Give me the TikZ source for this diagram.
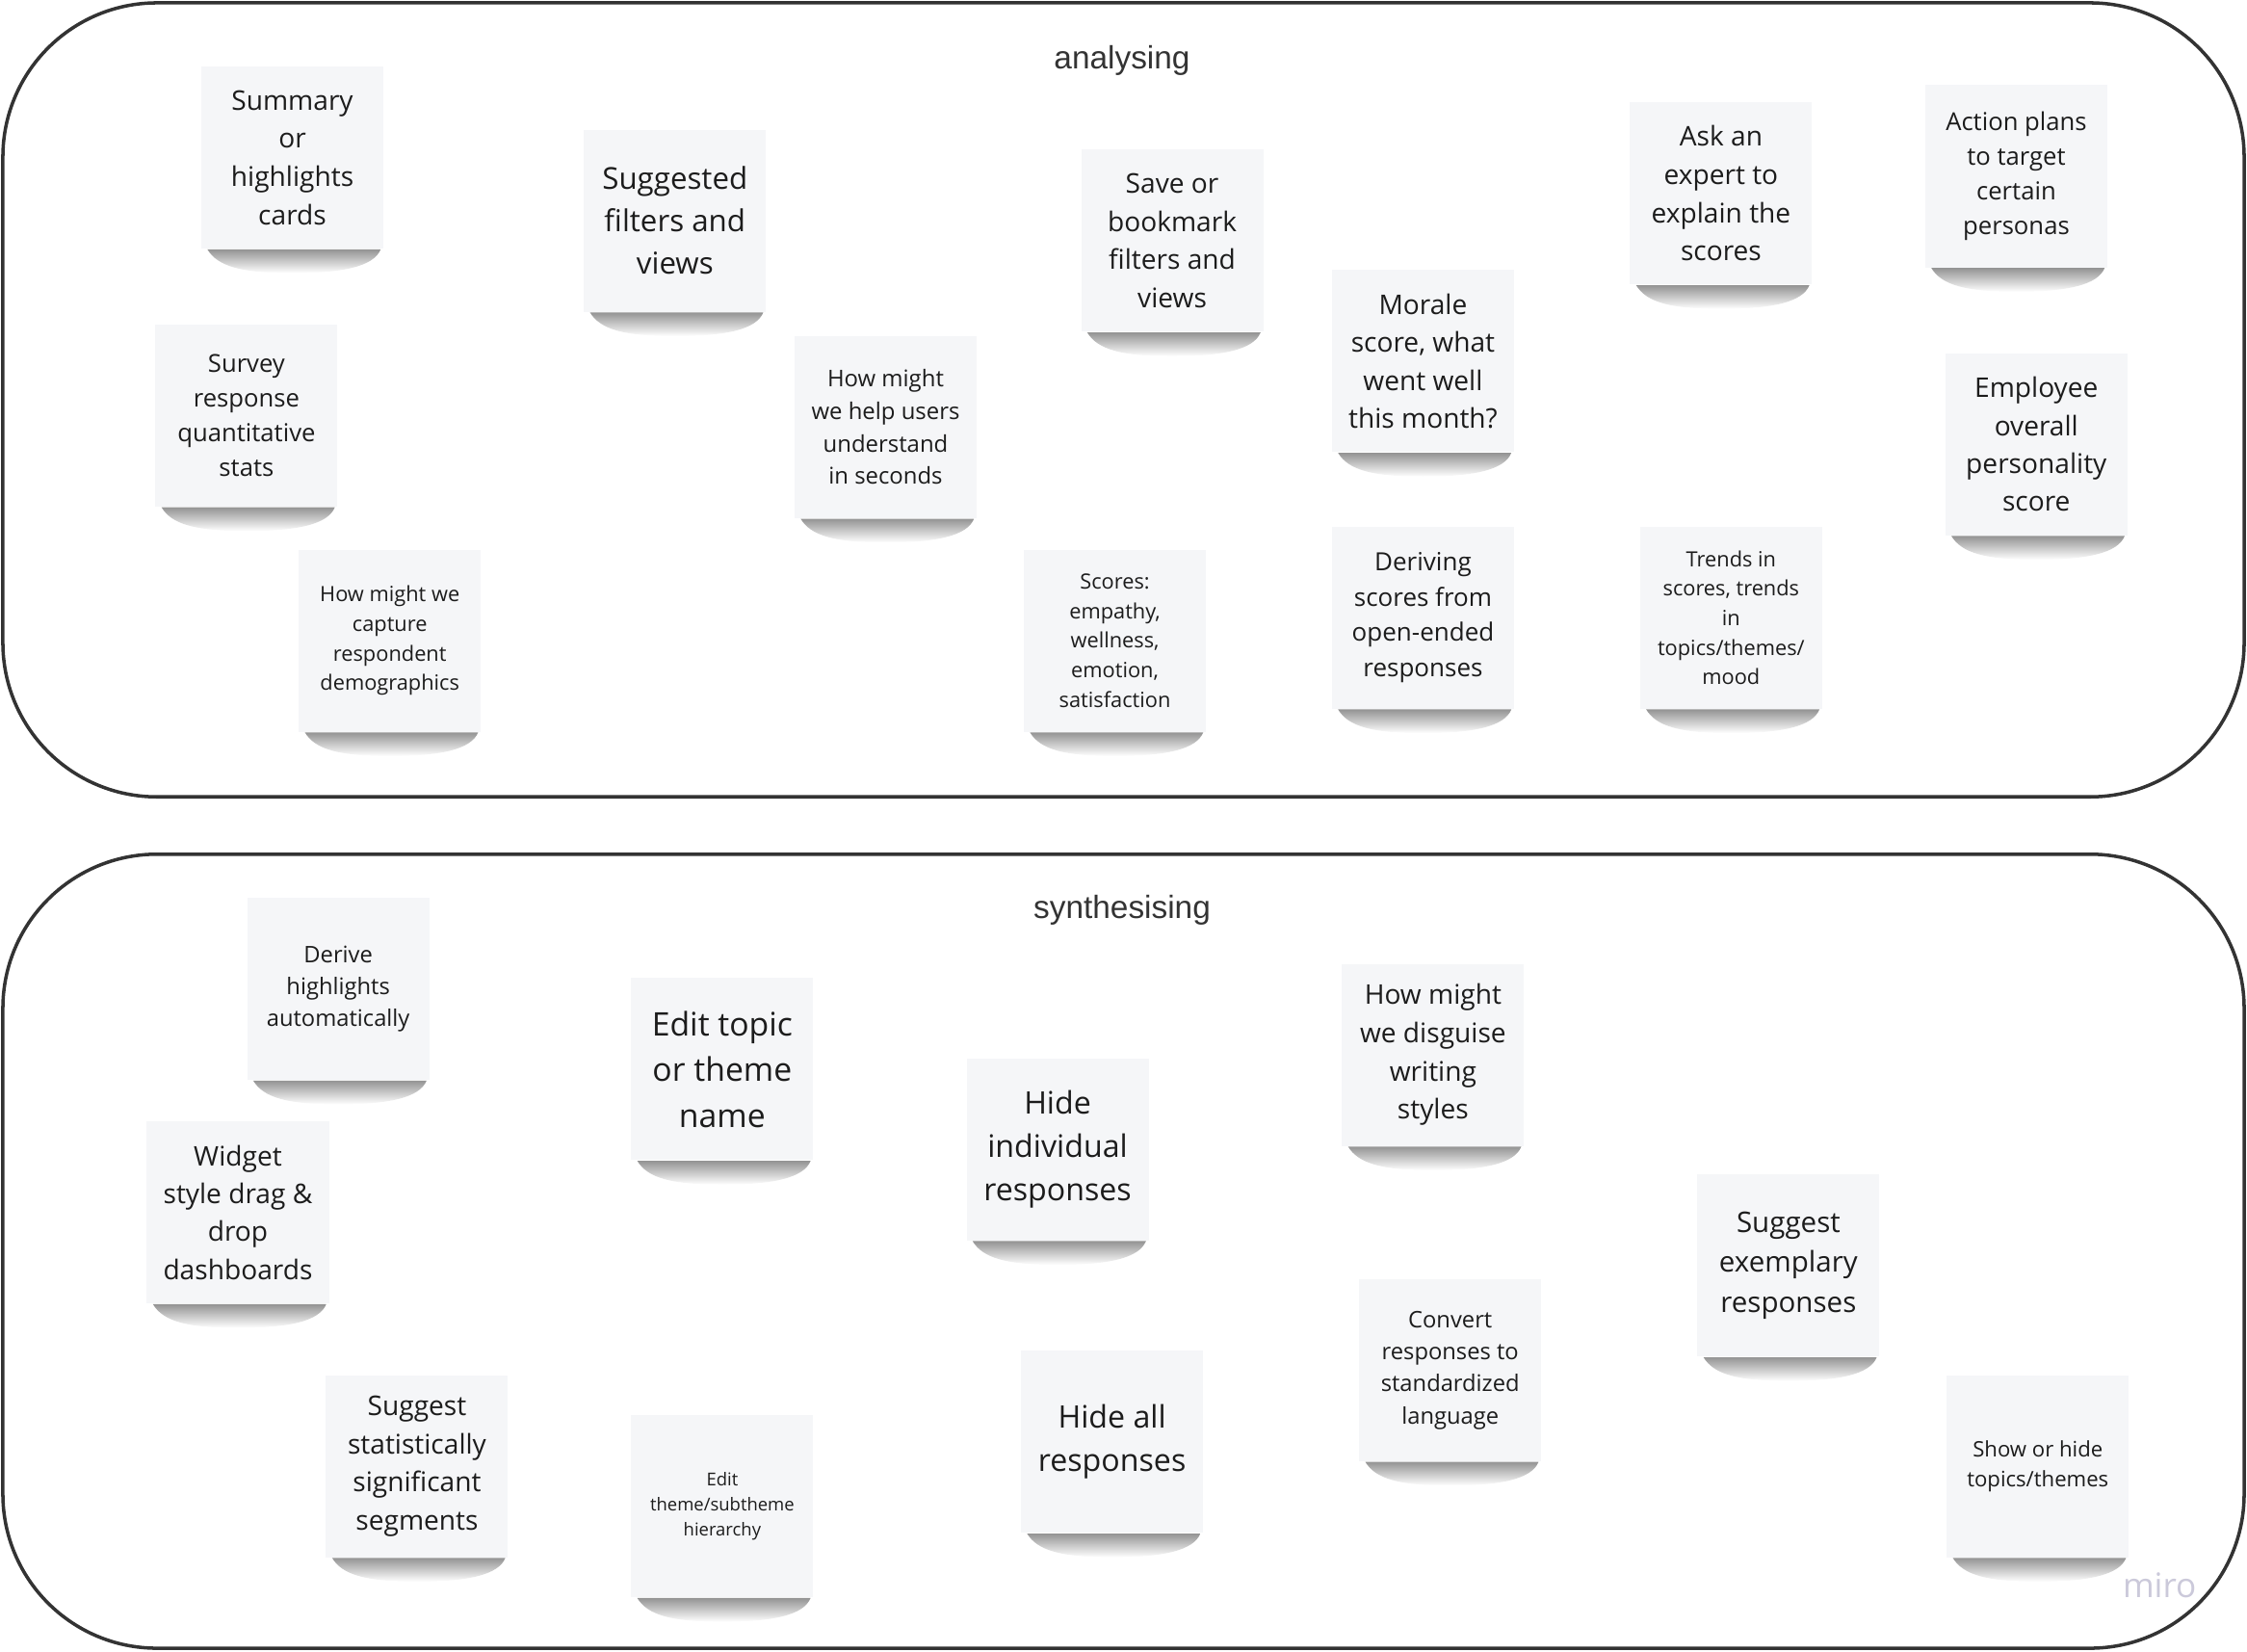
\documentclass[tikz,border=0pt]{standalone}
\usepackage{fontspec}
\setmainfont{Open Sans}
\newfontfamily\titlefont{Liberation Sans}
\definecolor{notegrey}{HTML}{F5F6F8}
\definecolor{framegrey}{HTML}{333333}
\definecolor{inkgrey}{HTML}{1C1C1C}
\definecolor{mirogrey}{HTML}{CBC9DA}
\newcommand{\nf}[2]{\fontsize{#1pt}{#2pt}\selectfont}

\begin{document}
\begin{tikzpicture}[x=0.01488cm, y=-0.01488cm]
  \tikzstyle{note}=[fill=notegrey, text=inkgrey, align=center, inner sep=0pt,
minimum width=1.89cm, minimum height=1.89cm]
  \tikzstyle{frame}=[draw=framegrey, line width=1pt, rounded corners=1.6cm]
  \tikzstyle{title}=[text=framegrey, font=\titlefont\fontsize{9.5pt}{11pt}\selectfont]
  \useasboundingbox (0,0) rectangle (1568,1152);

  % the two areas
  \draw[frame] (2,2) rectangle (1566,556);
  \draw[frame] (2,596) rectangle (1566,1150);
  \node[title] (T_ana) at (783,42) {analysing};
  \node[title] (T_syn) at (783,635) {synthesising};

  % analysing
  \node[note, font=\nf{8}{11.3}] (N_sum) at (204,110) {Summary\\or\\highlights\\cards};
  \node[note, font=\nf{8.9}{12.5}] (N_filt) at (471,154) {Suggested\\filters and\\views};
  \node[note, font=\nf{8}{11.3}] (N_save) at (818,168) {Save or\\bookmark\\filters and\\views};
  \node[note, font=\nf{8}{11.3}] (N_expert) at (1201,135) {Ask an\\expert to\\explain the\\scores};
  \node[note, font=\nf{7.3}{10.3}] (N_action) at (1407,123) {Action plans\\to target\\certain\\personas};
  \node[note, font=\nf{7.3}{10.3}] (N_survey) at (172,290) {Survey\\response\\quantitative\\stats};
  \node[note, font=\nf{6.8}{9.6}] (N_help) at (618,298) {How might\\we help users\\understand\\in seconds};
  \node[note, font=\nf{8}{11.2}] (N_morale) at (993,252) {Morale\\score, what\\went well\\this month?};
  \node[note, font=\nf{8}{11.2}] (N_employee) at (1421,310) {Employee\\overall\\personality\\score};
  \node[note, font=\nf{6.2}{8.7}] (N_capture) at (272,447) {How might we\\capture\\respondent\\demographics};
  \node[note, font=\nf{6.2}{8.7}] (N_scores) at (778,447) {Scores:\\empathy,\\wellness,\\emotion,\\satisfaction};
  \node[note, font=\nf{7.4}{10.4}] (N_deriving) at (993,431) {Deriving\\scores from\\open-ended\\responses};
  \node[note, font=\nf{6.2}{8.7}] (N_trends) at (1208,431) {Trends in\\scores, trends\\in\\topics/themes/\\mood};

  % synthesising
  \node[note, font=\nf{6.75}{9.5}] (N_derive) at (236,690) {Derive\\highlights\\automatically};
  \node[note, font=\nf{9.6}{13.5}] (N_edit) at (504,746) {Edit topic\\or theme\\name};
  \node[note, font=\nf{9.15}{12.9}] (N_hideind) at (738,802) {Hide\\individual\\responses};
  \node[note, font=\nf{8}{11.3}] (N_disguise) at (1000,736) {How might\\we disguise\\writing\\styles};
  \node[note, font=\nf{8}{11.2}] (N_widget) at (166,846) {Widget\\style drag \&\\drop\\dashboards};
  \node[note, font=\nf{8.4}{11.85}] (N_exemplary) at (1248,883) {Suggest\\exemplary\\responses};
  \node[note, font=\nf{8}{11.3}] (N_segments) at (291,1023) {Suggest\\statistically\\significant\\segments};
  \node[note, font=\nf{5.25}{7.4}] (N_hier) at (504,1051) {Edit\\theme/subtheme\\hierarchy};
  \node[note, font=\nf{9.15}{12.9}] (N_hideall) at (776,1006) {Hide all\\responses};
  \node[note, font=\nf{6.75}{9.5}] (N_convert) at (1012,956) {Convert\\responses to\\standardized\\language};
  \node[note, font=\nf{6.3}{8.9}] (N_show) at (1422,1023) {Show or hide\\topics/themes};

  % shadows under the notes
  \foreach \n in {sum,filt,save,expert,action,survey,help,morale,employee,capture,scores,deriving,trends,
derive,edit,hideind,disguise,widget,exemplary,segments,hier,hideall,convert,show}
    \shade[top color=black!42, bottom color=white]
      ([xshift=2pt]N_\n.south west) -- ([xshift=-1pt]N_\n.south east)
      .. controls ([xshift=-3pt,yshift=-5pt]N_\n.south east) and ([xshift=-12pt,yshift=-7pt]N_\n.south east) .. ([yshift=-7pt]N_\n.south)
      .. controls ([xshift=12pt,yshift=-7pt]N_\n.south west) and ([xshift=5pt,yshift=-5pt]N_\n.south west) .. cycle;

  \node[text=mirogrey, font=\fontsize{10pt}{12pt}\selectfont] (M_miro) at (1507,1106) {miro};
\end{tikzpicture}
\end{document}
